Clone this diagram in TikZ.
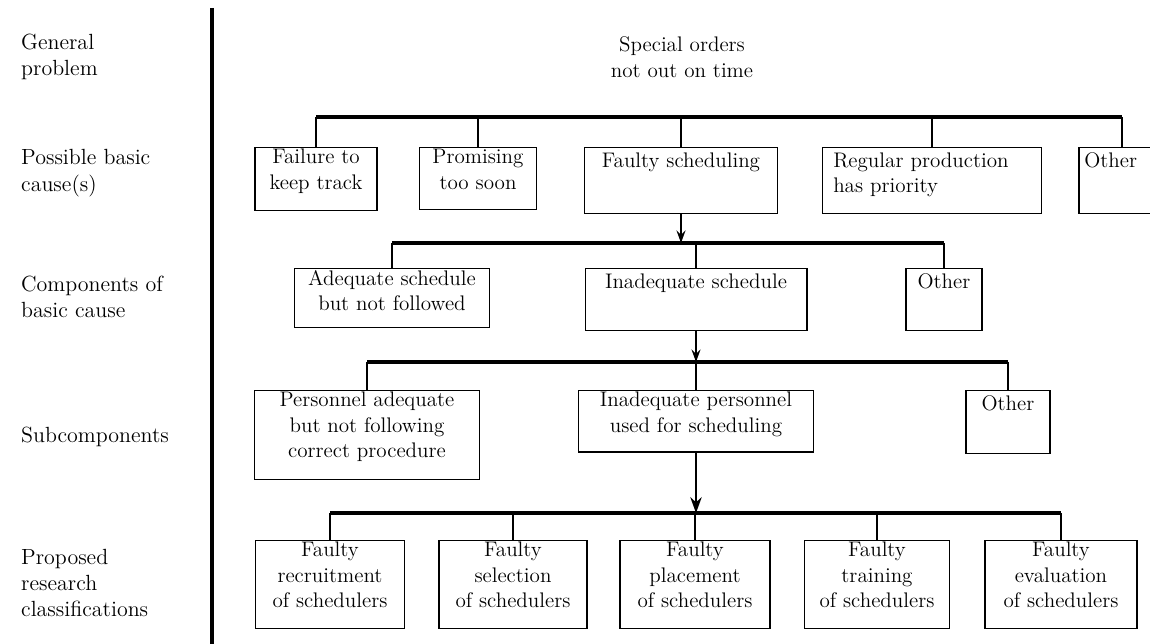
\documentclass[tikz,border=0pt]{standalone}
\usepackage{tikz}
\usetikzlibrary{arrows.meta,calc}
\tikzset{
         causebox/.style={draw,line width=.6pt,anchor=north,align=center,inner xsep=3pt,inner ysep=1pt,execute at begin node=\strut,font=\fontsize{12}{14.5}\selectfont},
         rowlabel/.style={anchor=west,align=left,font=\fontsize{12.5}{15}\selectfont},
         bar/.style={line width=2.2pt},
         stem/.style={line width=1.1pt},
         down/.style={line width=1.2pt,-{Stealth[length=7pt,width=5pt]}}
        }
\begin{document}
\begin{tikzpicture}[x=0.02cm,y=-0.02cm]
\useasboundingbox(0,0)rectangle(1150,644);
\clip(0,0)rectangle(1150,644);
%level axis
\coordinate(axtop)at(212,8);
\coordinate(axbot)at(212,644);
\draw[line width=2.2pt](axtop)--(axbot);
%row labels
\node[rowlabel](lgen)at(15,57){General\\problem};
\node[rowlabel](lcau)at(15,173){Possible basic\\cause(s)};
\node[rowlabel](lcom)at(15,297){Components of\\basic cause};
\node[rowlabel](lsub)at(15,437){Subcomponents};
\node[rowlabel](lres)at(15,583){Proposed\\research\\classifications};
%bar heights
\coordinate(b1)at(0,117);
\coordinate(b2)at(0,243);
\coordinate(b3)at(0,362);
\coordinate(b4)at(0,513);
%general problem
\node[align=center,font=\fontsize{12}{15}\selectfont](prob)at(682,57){Special orders\\not out on time};
%possible basic causes
\node[causebox,minimum width=2.44cm,text depth=10.75pt](fail)at(316,147){Failure to\\keep track};
\node[causebox,minimum width=2.34cm,text depth=10.75pt](prom)at(478,147){Promising\\too soon};
\node[causebox,minimum width=3.86cm,text depth=25.25pt](fsch)at(681,147){Faulty scheduling};
\node[causebox,align=left,text width=3.95cm,inner xsep=6pt,text depth=25.25pt](regp)at(932,147){Regular production\\has priority};
\node[causebox,align=left,text width=1.51cm,text depth=25.25pt](oth1)at(1122,147){Other};
\draw[bar](fail.north|-b1)--(oth1.north|-b1);
\foreach \n in {fail,prom,fsch,regp,oth1}\draw[stem](\n.north)--(\n.north|-b1);
\draw[down](fsch.south)--(fsch.south|-b2);
%components of basic cause
\node[causebox,minimum width=3.9cm,text depth=8.45pt](adeq)at(392,268){Adequate schedule\\but not followed};
\node[causebox,minimum width=4.44cm,text depth=22.95pt](inad)at(696,268){Inadequate schedule};
\node[causebox,minimum width=1.52cm,text depth=22.95pt](oth2)at(944,268){Other};
\draw[bar](adeq.north|-b2)--(oth2.north|-b2);
\foreach \n in {adeq,inad,oth2}\draw[stem](\n.north)--(\n.north|-b2);
\draw[down](inad.south)--(inad.south|-b3);
%subcomponents
\node[causebox,minimum width=4.5cm,text depth=11.05pt](pers)at(367,390){Personnel adequate\\but not following\\correct procedure};
\node[causebox,minimum width=4.7cm,text depth=10.15pt](inpe)at(696,390){Inadequate personnel\\used for scheduling};
\node[causebox,minimum width=1.68cm,text depth=23.55pt](oth3)at(1008,390){Other};
\draw[bar](pers.north|-b3)--(oth3.north|-b3);
\foreach \n in {pers,inpe,oth3}\draw[stem](\n.north)--(\n.north|-b3);
\draw[down,-{Stealth[length=9pt,width=6.5pt]}](inpe.south)--(inpe.south|-b4);
%proposed research classifications
\node[causebox,minimum width=2.98cm,text depth=11pt](recr)at(330,540){Faulty\\recruitment\\of schedulers};
\node[causebox,minimum width=2.96cm,text depth=11pt](sele)at(513,540){Faulty\\selection\\of schedulers};
\node[causebox,minimum width=3cm,text depth=11pt](plac)at(695,540){Faulty\\placement\\of schedulers};
\node[causebox,minimum width=2.9cm,text depth=11pt](trai)at(877,540){Faulty\\training\\of schedulers};
\node[causebox,minimum width=3.04cm,text depth=11pt](eval)at(1061,540){Faulty\\evaluation\\of schedulers};
\draw[bar](recr.north|-b4)--(eval.north|-b4);
\foreach \n in {recr,sele,plac,trai,eval}\draw[stem](\n.north)--(\n.north|-b4);
\end{tikzpicture}
\end{document}
